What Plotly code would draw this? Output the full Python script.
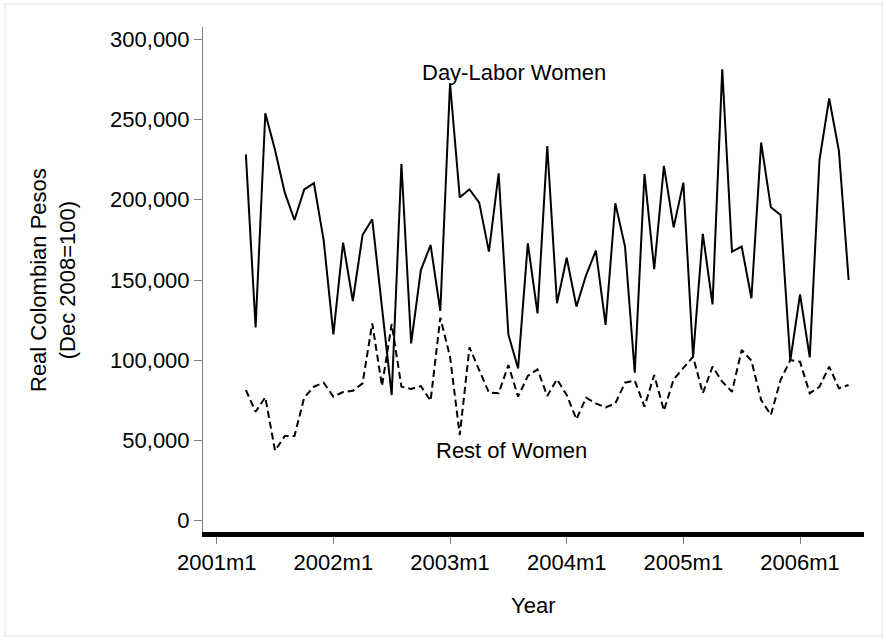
import plotly.graph_objects as go

# Monthly series, 2001m4 - 2006m6
months = [f"{y}m{m}" for y in range(2001, 2007) for m in range(1, 13)][3:66]

day_labor_women = [
    228300, 120500, 253900, 231000, 204400, 187400, 206500, 210300, 174900,
    116100, 173300, 136900, 178000, 187800, 133000, 78300, 222300, 110500,
    156200, 171800, 130700,
    272600, 201500, 206500, 198200, 167700, 216500, 116100, 94900, 172900,
    129200, 233500, 135500,
    163900, 133400, 153100, 168300, 122000, 197800, 170800, 92200, 216100,
    156700, 221100, 182800,
    210700, 102200, 178700, 134800, 281300, 167700, 170800, 138600, 235600,
    195300, 190500, 99700,
    141100, 101800, 224800, 263200, 230400, 150000,
]

rest_of_women = [
    81400, 67900, 76900, 43600, 52800, 52800, 76700, 83500, 86000,
    77300, 80200, 81000, 85600, 123000, 83900, 122600, 83500, 82100,
    83900, 74700, 126500,
    102200, 53400, 108000, 93900, 79800, 79400, 97000, 77300, 90200,
    94300, 77700, 88100,
    78300, 63200, 76700, 73100, 70600, 73100, 86000, 87300, 71100,
    90800, 68600, 88100,
    94900, 102200, 79400, 96000, 86600, 80400, 106400, 99700, 75200,
    65900, 87700, 100100,
    99100, 79400, 83500, 96000, 82500, 84600,
]

tick_labels = ["2001m1", "2002m1", "2003m1", "2004m1", "2005m1", "2006m1"]
y_ticks = [0, 50000, 100000, 150000, 200000, 250000, 300000]


def month_index(label):
    y, m = label.split("m")
    return (int(y) - 2001) * 12 + int(m) - 1


x = [month_index(s) for s in months]
tick_vals = [month_index(s) for s in tick_labels]

FONT = "Arial, Liberation Sans, Helvetica, sans-serif"
W, H = 886, 641
L, R, T, B = 203, 22, 27, 109
PW, PH = W - L - R, H - T - B


def px_x(p):
    return (p - L) / PW


def px_y(p):
    return (H - B - p) / PH


fig = go.Figure()
fig.add_trace(go.Scatter(
    x=x, y=day_labor_women, mode="lines",
    line=dict(color="black", width=2),
    showlegend=False, name="Day-Labor Women",
))
fig.add_trace(go.Scatter(
    x=x, y=rest_of_women, mode="lines",
    line=dict(color="black", width=2, dash="7px,4px"),
    showlegend=False, name="Rest of Women",
))

fig.update_layout(
    width=W, height=H,
    margin=dict(l=L, r=R, t=T, b=B),
    paper_bgcolor="white", plot_bgcolor="white",
    font=dict(family=FONT, size=22, color="black"),
    xaxis=dict(
        range=[-1.41, 66.58], tickmode="array",
        tickvals=tick_vals, ticktext=tick_labels,
        showgrid=False, zeroline=False,
        showline=True, linecolor="black", linewidth=5,
        ticks="outside", ticklen=7, tickcolor="#7f7f7f", tickwidth=1,
        tickfont=dict(size=22, family=FONT, color="black"),
    ),
    yaxis=dict(
        range=[-7040, 307660], tickmode="array", tickvals=y_ticks,
        tickformat=",d",
        showgrid=False, zeroline=False,
        showline=True, linecolor="#7f7f7f", linewidth=1,
        ticks="outside", ticklen=8, tickcolor="#7f7f7f", tickwidth=1,
        tickfont=dict(size=22, family=FONT, color="black"),
    ),
    annotations=[
        dict(x=20.9, y=279000, xref="x", yref="y", text="Day-Labor Women",
             showarrow=False, xanchor="left", yanchor="middle",
             font=dict(size=22, family=FONT, color="black")),
        dict(x=22.35, y=44000, xref="x", yref="y", text="Rest of Women",
             showarrow=False, xanchor="left", yanchor="middle",
             font=dict(size=22, family=FONT, color="black")),
        dict(x=px_x(533), y=px_y(605), xref="paper", yref="paper", text="Year",
             showarrow=False, xanchor="center", yanchor="middle",
             font=dict(size=22, family=FONT, color="black")),
        dict(x=px_x(53), y=px_y(280), xref="paper", yref="paper",
             text="Real Colombian Pesos<br>(Dec 2008=100)", textangle=-90,
             showarrow=False, xanchor="center", yanchor="middle",
             font=dict(size=22, family=FONT, color="black")),
    ],
    shapes=[
        dict(type="rect", xref="paper", yref="paper",
             x0=px_x(5), x1=px_x(882), y0=px_y(636), y1=px_y(4),
             line=dict(color="#e4e4e4", width=1), layer="below"),
    ],
)

fig.write_html("out.html")
